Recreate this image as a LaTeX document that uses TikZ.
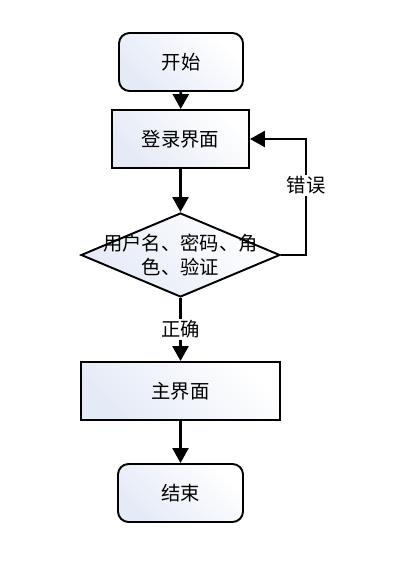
\documentclass[tikz,border=0pt]{standalone}
\usepackage{fontspec}
\setmainfont{Noto Sans CJK SC}
\usetikzlibrary{arrows.meta,shapes.geometric}
\definecolor{boxblue}{HTML}{E4EAF6}

\begin{document}
\begin{tikzpicture}[>={Triangle[length=8.5pt,width=9pt]},
  lab/.style={font=\fontsize{11pt}{14pt}\selectfont},
  fillbox/.style={draw,line width=1.1pt,left color=boxblue,right color=white,
    shading angle=135,inner sep=0pt,lab},
  termbox/.style={fillbox,rounded corners=6pt,minimum height=1.16cm},
  procbox/.style={fillbox,minimum height=1.16cm},
  checkbox/.style={fillbox,diamond,minimum width=3.98cm,minimum height=1.68cm},
  flow/.style={->,line width=1.6pt}]
  \useasboundingbox (0,0) rectangle (8.04,-11.34);
  % ---------------- boxes ----------------
  \node[termbox,minimum width=2.48cm] (start) at (3.62,-1.24) {开始};
  \node[procbox,minimum width=2.74cm] (login) at (3.61,-2.78) {登录界面};
  \node[checkbox] (check) at (3.61,-5.10) {};
  \node[lab,align=center] (checktxt) at (check) {用户名、密码、角\\色、验证};
  \node[procbox,minimum width=3.98cm] (main) at (3.61,-7.82) {主界面};
  \node[termbox,minimum width=2.50cm] (end) at (3.61,-9.86) {结束};
  % ---------------- connectors ----------------
  \draw[flow] (start) -- (login);
  \draw[flow] (login) -- (check);
  \draw[flow] (check) -- node[lab,fill=white,inner sep=1pt,pos=0.5] (ok) {正确} (main);
  \draw[flow] (main) -- (end);
  \coordinate (loop) at (6.12,-5.10);
  \draw[flow] (check.east) -- (loop) |- (login.east)
    node[pos=0.3,lab,fill=white,inner sep=1pt] (err) {错误};
\end{tikzpicture}
\end{document}
